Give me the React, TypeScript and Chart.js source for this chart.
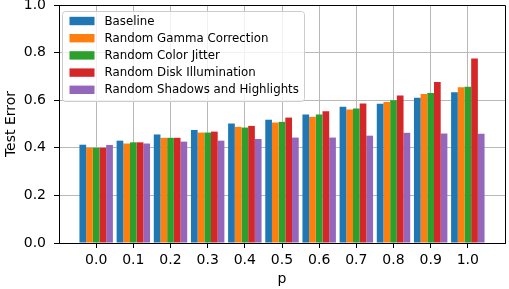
import React, { useEffect, useRef } from "react";
import { Chart, registerables } from "chart.js";

Chart.register(...registerables);

const pLabels = ["0.0", "0.1", "0.2", "0.3", "0.4", "0.5", "0.6", "0.7", "0.8", "0.9", "1.0"];
const seriesNames = [
  "Baseline",
  "Random Gamma Correction",
  "Random Color Jitter",
  "Random Disk Illumination",
  "Random Shadows and Highlights",
];
const seriesColors = ["#1f77b4", "#ff7f0e", "#2ca02c", "#d62728", "#9467bd"];
const baseline = [0.413, 0.43, 0.456, 0.475, 0.502, 0.518, 0.54, 0.572, 0.585, 0.61, 0.633];
const gamma = [0.4, 0.418, 0.442, 0.464, 0.488, 0.506, 0.53, 0.561, 0.592, 0.626, 0.654];
const jitter = [0.4, 0.423, 0.442, 0.464, 0.485, 0.509, 0.54, 0.565, 0.6, 0.63, 0.657];
const disk = [0.4, 0.423, 0.442, 0.468, 0.492, 0.527, 0.554, 0.586, 0.62, 0.676, 0.775];
const shadows = [0.412, 0.418, 0.426, 0.43, 0.437, 0.443, 0.443, 0.451, 0.463, 0.46, 0.459];
const allSeries = [baseline, gamma, jitter, disk, shadows];

const FONT = "'DejaVu Sans', sans-serif";

const framePlugin = {
  id: "frameAndLegend",
  afterDraw(chart: any) {
    const { ctx, chartArea } = chart;
    const { left, right, top, bottom } = chartArea;
    ctx.save();
    ctx.strokeStyle = "#000";
    ctx.lineWidth = 1;
    ctx.beginPath();
    ctx.moveTo(left, top + 0.5);
    ctx.lineTo(right + 0.5, top + 0.5);
    ctx.lineTo(right + 0.5, bottom);
    ctx.stroke();

    const bx = left + 3.5;
    const by = top + 6.5;
    const bw = 242;
    const bh = 90;
    const r = 3;
    ctx.beginPath();
    ctx.moveTo(bx + r, by);
    ctx.lineTo(bx + bw - r, by);
    ctx.arcTo(bx + bw, by, bx + bw, by + r, r);
    ctx.lineTo(bx + bw, by + bh - r);
    ctx.arcTo(bx + bw, by + bh, bx + bw - r, by + bh, r);
    ctx.lineTo(bx + r, by + bh);
    ctx.arcTo(bx, by + bh, bx, by + bh - r, r);
    ctx.lineTo(bx, by + r);
    ctx.arcTo(bx, by, bx + r, by, r);
    ctx.closePath();
    ctx.fillStyle = "rgba(255,255,255,0.8)";
    ctx.fill();
    ctx.strokeStyle = "#cccccc";
    ctx.stroke();

    ctx.font = `11.8px ${FONT}`;
    ctx.textBaseline = "middle";
    ctx.textAlign = "left";
    seriesNames.forEach((name, i) => {
      const cy = by + 9.5 + i * 17.2;
      ctx.fillStyle = seriesColors[i];
      ctx.fillRect(bx + 7, cy - 4.2, 25, 8.4);
      ctx.fillStyle = "#000";
      ctx.fillText(name, bx + 42, cy + 0.5);
    });
    ctx.restore();
  },
};

export default function App() {
  const ref = useRef<HTMLCanvasElement | null>(null);

  useEffect(() => {
    if (!ref.current) return;
    const chart = new Chart(ref.current, {
      type: "bar",
      data: {
        datasets: allSeries.map((vals, i) => ({
          label: seriesNames[i],
          data: vals.map((v, j) => ({ x: j, y: v })),
          backgroundColor: seriesColors[i],
          borderWidth: 0,
          categoryPercentage: 0.9,
          barPercentage: 1.0,
        })),
      },
      options: {
        animation: false,
        responsive: false,
        devicePixelRatio: 1,
        layout: { padding: { top: 5, right: 4, left: 0, bottom: 0 } },
        plugins: { legend: { display: false }, tooltip: { enabled: false } },
        scales: {
          x: {
            type: "linear",
            min: -1,
            max: 11,
            offset: false,
            z: 1,
            afterBuildTicks: (scale: any) => {
              scale.ticks = pLabels.map((_, i) => ({ value: i }));
            },
            afterFit: (scale: any) => {
              scale.height = 46;
              scale.paddingLeft = 0;
              scale.paddingRight = 0;
            },
            ticks: {
              autoSkip: false,
              maxRotation: 0,
              padding: 4,
              color: "#000",
              font: { family: FONT, size: 14 },
              callback: (v: any) => pLabels[Math.round(Number(v))] ?? "",
            },
            grid: {
              offset: false,
              color: "#b8b8b8",
              lineWidth: 1,
              tickLength: 5,
              tickColor: "#000",
            },
            border: { color: "#000", width: 1 },
            title: {
              display: true,
              text: "p",
              color: "#000",
              font: { family: FONT, size: 14 },
              padding: { top: 0, bottom: 1 },
            },
          },
          y: {
            min: 0,
            max: 1,
            z: 1,
            afterFit: (scale: any) => {
              scale.width = 59;
              scale.paddingTop = 0;
              scale.paddingBottom = 0;
            },
            ticks: {
              stepSize: 0.2,
              padding: 8,
              color: "#000",
              font: { family: FONT, size: 14 },
              callback: (v: any) => Number(v).toFixed(1),
            },
            grid: {
              color: "#b8b8b8",
              lineWidth: 1,
              tickLength: 5,
              tickColor: "#000",
            },
            border: { color: "#000", width: 1 },
            title: {
              display: true,
              text: "Test Error",
              color: "#000",
              font: { family: FONT, size: 14 },
              padding: { top: 3, bottom: 0 },
            },
          },
        },
      },
      plugins: [framePlugin],
    } as any);
    return () => chart.destroy();
  }, []);

  return (
    <div style={{ position: "fixed", left: 0, top: 0, width: 509, height: 289, background: "#fff" }}>
      <canvas ref={ref} width={509} height={289} />
    </div>
  );
}
